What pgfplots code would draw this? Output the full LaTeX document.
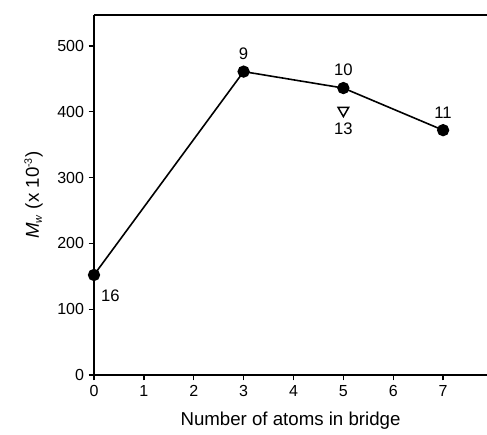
\documentclass[border=0pt]{standalone}
\usepackage{pgfplots}
\pgfplotsset{compat=1.18}
\usepackage{fontspec}
\setmainfont{Liberation Sans}
\begin{document}
\begin{tikzpicture}
\begin{axis}[
    scale only axis,
    width=294.75pt, height=270pt,
    xmin=0, xmax=7.88,
    ymin=0, ymax=547,
    axis line style={draw=none},
    xtick={0,1,...,7},
    ytick={0,100,...,500},
    tick align=outside,
    xtick pos=bottom, ytick pos=left,
    major tick length=4pt,
    tick style={black, line width=1pt},
    tick label style={font=\fontsize{12}{14}\selectfont},
    /pgf/number format/assume math mode=true,
    xlabel={Number of atoms in bridge},
    ylabel={\textit{M}$_{\mbox{\footnotesize\textit{w}}}$ (x 10$^{\mbox{\footnotesize -3}}$)},
    label style={font=\fontsize{14}{16}\selectfont},
    xlabel style={yshift=-5pt},
    ylabel style={yshift=4pt},
    clip=false,
]
  \draw[line width=1.3pt] (rel axis cs:0,1) -- (rel axis cs:0,0) -- (rel axis cs:1,0);
  \draw[line width=1.3pt] (rel axis cs:0,1) -- (rel axis cs:1,1);

  \addplot[black, line width=1.2pt, mark=*, mark size=4pt] coordinates {(0,152)(3,461)(5,436)(7,372)};
  \addplot[black, line width=1.1pt, only marks, mark=triangle, mark size=4.6pt, mark options={rotate=180, fill=white}] coordinates {(5,402)};

  \node[font=\fontsize{12.5}{14}\selectfont, anchor=north west] at (axis cs:0.05,137) {16};
  \node[font=\fontsize{12.5}{14}\selectfont, anchor=south] at (axis cs:3,472) {9};
  \node[font=\fontsize{12.5}{14}\selectfont, anchor=south] at (axis cs:5,447) {10};
  \node[font=\fontsize{12.5}{14}\selectfont, anchor=south] at (axis cs:7,383) {11};
  \node[font=\fontsize{12.5}{14}\selectfont, anchor=north] at (axis cs:5,390) {13};

  \coordinate (bl) at (rel axis cs:0,0);
  \coordinate (tr) at (rel axis cs:1,1);
\end{axis}
\pgfresetboundingbox
\path[use as bounding box] ([xshift=-70.5pt, yshift=-44.25pt]bl) rectangle ([yshift=11.25pt]tr);
\end{tikzpicture}
\end{document}
